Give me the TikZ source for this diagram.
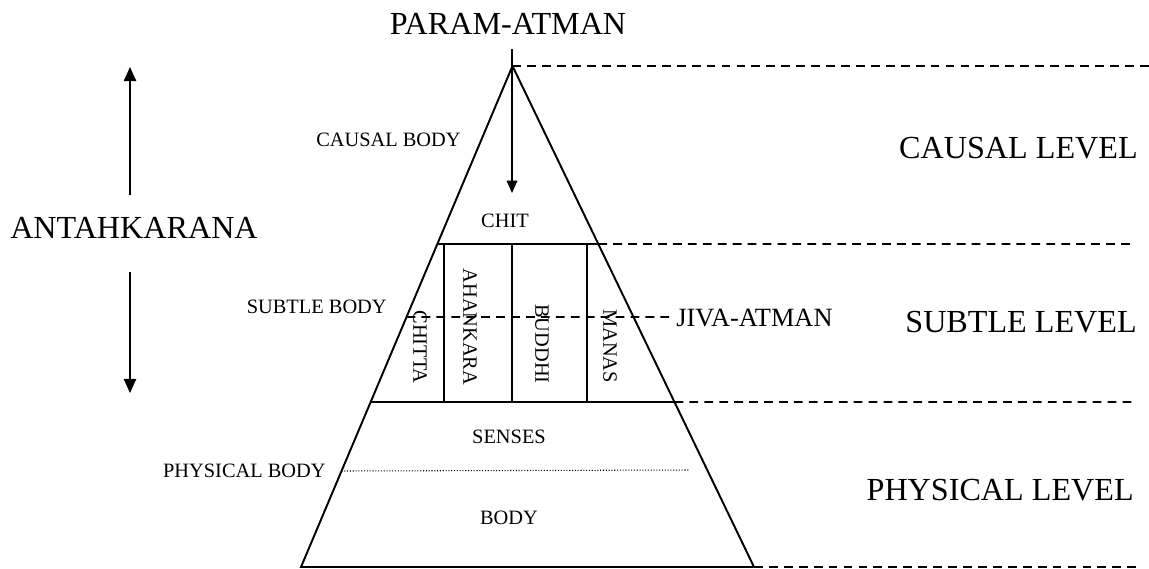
\documentclass[tikz,border=0pt]{standalone}
\usepackage{fontspec}
\setmainfont{Liberation Serif}
\usetikzlibrary{arrows.meta,calc}

\begin{document}
\begin{tikzpicture}[x=0.02cm,y=-0.02cm,
  biglbl/.style={font=\fontsize{18.3}{21}\selectfont,inner sep=0pt},
  midlbl/.style={font=\fontsize{15}{17}\selectfont,inner sep=0pt},
  smalllbl/.style={font=\fontsize{11.6}{14}\selectfont,inner sep=0pt},
  collbl/.style={font=\fontsize{11.6}{14}\selectfont,inner sep=0pt,rotate=-90},
  pyrline/.style={line width=1.1pt},
  colline/.style={line width=0.8pt},
  levelline/.style={line width=1pt,dash pattern=on 5pt off 3.5pt},
  flowarrow/.style={-{Triangle[length=8pt,width=7pt]},line width=0.9pt}
]
  \useasboundingbox (0,0) rectangle (1149,568);
  % Pyramid corners
  \coordinate (apex) at (512.5,66);
  \coordinate (baseL) at (301,567);
  \coordinate (baseR) at (754,567);
  % Cut points on the two sides
  \coordinate (cutL1) at ($(apex)!0.3553!(baseL)$);
  \coordinate (cutR1) at ($(apex)!0.3553!(baseR)$);
  \coordinate (cutL2) at ($(apex)!0.6707!(baseL)$);
  \coordinate (cutR2) at ($(apex)!0.6707!(baseR)$);
  \coordinate (jivaL) at ($(apex)!0.501!(baseL)$);
  \coordinate (physL) at ($(apex)!0.8084!(baseL)$);
  % Pyramid and level cuts
  \draw[pyrline] (apex) -- (baseL) -- (baseR) -- cycle;
  \draw[pyrline] (cutL1) -- (cutR1);
  \draw[pyrline] (cutL2) -- (cutR2);
  % Columns of the subtle body
  \foreach \cx in {444,512,587}
    \draw[colline] (\cx,244) -- (\cx,402);
  % Dashed level lines
  \coordinate (endC) at (1149,66);
  \coordinate (endS) at (1130,244);
  \coordinate (endP) at (1135,402);
  \coordinate (endB) at (1140,567);
  \draw[levelline] (apex) -- (endC);
  \draw[levelline] (cutR1) -- (endS);
  \draw[levelline] (cutR2) -- (endP);
  \draw[levelline] (baseR) -- (endB);
  % Top label and descent arrow
  \node[biglbl] (param) at (508,24) {PARAM-ATMAN};
  \coordinate (paramfoot) at (512,49);
  \coordinate (chittip) at (512,193);
  \draw[-{Triangle[length=7pt,width=6pt]},line width=0.9pt] (paramfoot) -- (chittip);
  \node[smalllbl] (chit) at (505,221) {CHIT};
  \node[smalllbl,anchor=east] (causalbody) at (461,140) {CAUSAL BODY};
  % Antahkarana span
  \node[biglbl] (antah) at (134,228) {ANTAHKARANA};
  \coordinate (antahup) at (130,67);
  \coordinate (antahdown) at (130,393);
  \draw[flowarrow] (130,195) coordinate (antahtop) -- (antahup);
  \draw[flowarrow] (130,272) coordinate (antahbot) -- (antahdown);
  % Subtle body
  \node[smalllbl,anchor=east] (subtlebody) at (387,307) {SUBTLE BODY};
  \node[collbl] (chitta) at (420,347) {CHITTA};
  \node[collbl] (ahankara) at (470,327) {AHANKARA};
  \node[collbl] (buddhi) at (542,344) {BUDDHI};
  \node[collbl] (manas) at (610,346) {MANAS};
  \node[midlbl,anchor=west] (jiva) at (676,318) {JIVA-ATMAN};
  \draw[levelline] (jivaL) -- ($(jiva.west)+(-7,-1)$);
  % Physical body
  \node[smalllbl] (senses) at (509,437) {SENSES};
  \node[smalllbl] (body) at (509,518) {BODY};
  \node[smalllbl,anchor=east] (physbody) at (326,471) {PHYSICAL BODY};
  \coordinate (physR) at (690,470);
  \draw[densely dotted,line width=0.6pt] (physL) -- (physR);
  % Level names
  \node[biglbl,anchor=east] (causal) at (1138,148) {CAUSAL LEVEL};
  \node[biglbl,anchor=east] (subtle) at (1137,322) {SUBTLE LEVEL};
  \node[biglbl,anchor=east] (physical) at (1134,490) {PHYSICAL LEVEL};
\end{tikzpicture}
\end{document}
